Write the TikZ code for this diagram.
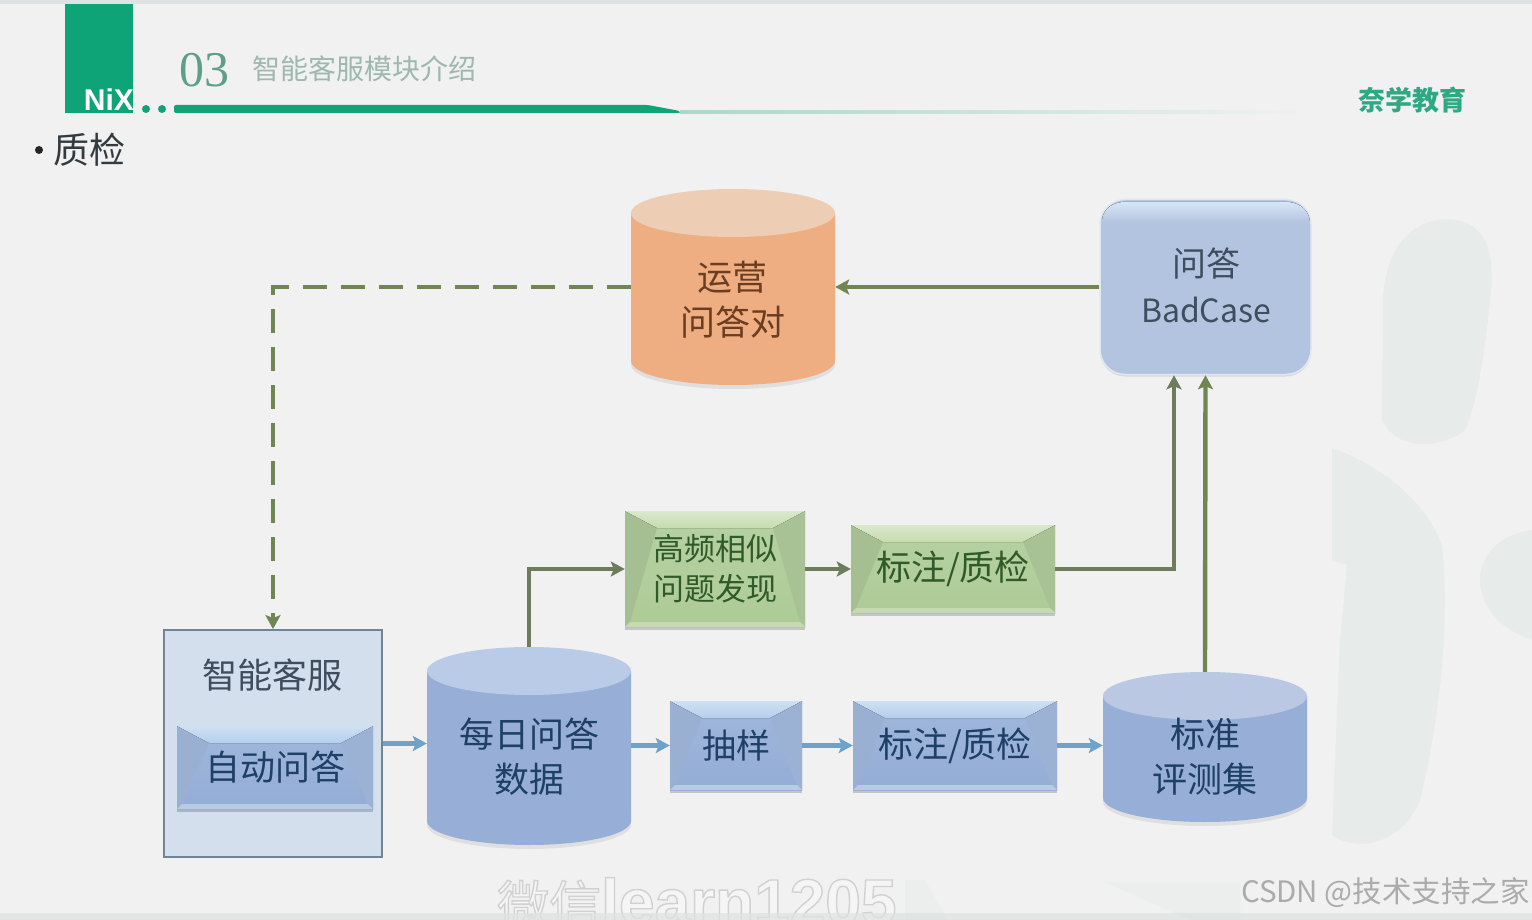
\documentclass[tikz,border=0pt]{standalone}
\usepackage{fontspec}
\setmainfont{Noto Sans CJK SC}
\newfontfamily\latinb{Liberation Sans}
\newfontfamily\serifnum{Liberation Serif}
\usetikzlibrary{arrows.meta,calc,shadows}
\definecolor{bgc}{HTML}{F1F1F1}
\definecolor{strip}{HTML}{DDE3E2}
\definecolor{nix}{HTML}{0FA478}
\definecolor{faint}{HTML}{E7ECEA}
\definecolor{inkblue}{HTML}{1E3F66}
\definecolor{inkgreen}{HTML}{2F5A2A}
\definecolor{inkbrown}{HTML}{6B3E22}
\definecolor{inkgrey}{HTML}{3F4E5E}
\definecolor{olive}{HTML}{6F8652}
\definecolor{olivedark}{HTML}{6E7C5E}
\definecolor{arrowblue}{HTML}{6FA2CB}
\definecolor{numc}{HTML}{5F9F8A}
\definecolor{titlec}{HTML}{9DB8AE}
\definecolor{brandc}{HTML}{2FA982}
\definecolor{headc}{HTML}{333B40}
\definecolor{shellfill}{HTML}{D3DFEC}
\definecolor{shelldraw}{HTML}{6F8497}
\definecolor{roundfill}{HTML}{B3C4E0}
\definecolor{roundtop}{HTML}{D8E6F4}
\definecolor{roundrim}{HTML}{E2E8F2}
\definecolor{btop}{HTML}{B4CFEC}\definecolor{bleft}{HTML}{9AB0D3}\definecolor{bright}{HTML}{9CB2D5}\definecolor{bbot}{HTML}{B9CAE4}\definecolor{bface}{HTML}{94ADD6}
\definecolor{gtop}{HTML}{C6DCB0}\definecolor{gleft}{HTML}{A6BF92}\definecolor{gright}{HTML}{A9C295}\definecolor{gbot}{HTML}{C6D9B2}\definecolor{gface}{HTML}{ADCB96}
\definecolor{cylblue}{HTML}{97AED6}\definecolor{cylbluetop}{HTML}{B9CBE6}
\definecolor{cylorange}{HTML}{EFAE81}\definecolor{cylorangetop}{HTML}{EDCDB3}
\definecolor{cylstdtop}{HTML}{BAC8E4}
\definecolor{csdnc}{HTML}{ABABAB}
\tikzset{
  px/.style={font=\fontsize{#1}{45}\selectfont},
  bevel/.style n args={5}{rectangle,inner sep=0pt,align=center,
    top color=#5!88!white,bottom color=#5,
    drop shadow={shadow xshift=0pt,shadow yshift=-3pt,fill=black,opacity=.18},
    path picture={
      \coordinate (NW) at (path picture bounding box.north west);
      \coordinate (NE) at (path picture bounding box.north east);
      \coordinate (SW) at (path picture bounding box.south west);
      \coordinate (SE) at (path picture bounding box.south east);
      \fill[#2] (NW) -- ([xshift=32pt,yshift=-17pt]NW) -- ([xshift=5pt,yshift=5pt]SW) -- (SW) -- cycle;
      \fill[#3] (NE) -- ([xshift=-32pt,yshift=-17pt]NE) -- ([xshift=-5pt,yshift=5pt]SE) -- (SE) -- cycle;
      \fill[top color=#1!65!white,bottom color=#1] (NW) -- (NE) -- ([xshift=-32pt,yshift=-17pt]NE) -- ([xshift=32pt,yshift=-17pt]NW) -- cycle;
      \fill[#4] (SW) -- ([xshift=5pt,yshift=5pt]SW) -- ([xshift=-5pt,yshift=5pt]SE) -- (SE) -- cycle;
    }},
  bluebevel/.style={bevel={btop}{bleft}{bright}{bbot}{bface},text=inkblue},
  greenbevel/.style={bevel={gtop}{gleft}{gright}{gbot}{gface},text=inkgreen},
  shellbox/.style={rectangle,draw=shelldraw,line width=1.8pt,fill=shellfill,inner sep=0pt},
  roundbox/.style={rectangle,rounded corners=25pt,inner sep=0pt,align=center,fill=roundfill,draw=roundrim,line width=1.5pt,
    drop shadow={shadow xshift=0pt,shadow yshift=-2pt,fill=black,opacity=.10}},
  cyltext/.style={inner sep=0pt,align=center},
  flow/.style={line width=4.4pt,draw=#1,-{Stealth[length=14pt,width=15pt,inset=3pt,fill=#1]}},
  dashflow/.style={line width=4.4pt,draw=olive,dash pattern=on 24pt off 14pt,-{Stealth[length=14pt,width=15pt,inset=3pt,fill=olive]}},
  ghost/.style={fill=faint,draw=none},
  ghostpale/.style={fill=faint!60!bgc,draw=none},
}
% \dbcyl{name}{x1}{x2}{y1}{y2}{body}{top}
\newcommand{\dbcyl}[7]{%
  \pgfmathsetmacro{\cx}{(#2+#3)/2}\pgfmathsetmacro{\rx}{(#3-#2)/2}%
  \pgfmathsetmacro{\cy}{(#4+#5)/2}\pgfmathsetmacro{\hh}{#5-#4}\pgfmathsetmacro{\ww}{#3-#2}%
  \pgfmathsetmacro{\ya}{#4+24}\pgfmathsetmacro{\yb}{#5-24}\pgfmathsetmacro{\ybs}{#5-20}%
  \fill[black,opacity=.07] (#2,\ya) -- (#2,\ybs) arc[start angle=180,end angle=360,x radius=\rx pt,y radius=24pt] -- (#3,\ya) -- cycle;
  \fill[#6] (#2,\ya) -- (#2,\yb) arc[start angle=180,end angle=360,x radius=\rx pt,y radius=24pt] -- (#3,\ya) -- cycle;
  \fill[#7] (\cx,\ya) ellipse[x radius=\rx pt,y radius=24pt];
  \node[inner sep=0pt,minimum width=\ww pt,minimum height=\hh pt] (#1) at (\cx,\cy) {};
}
\begin{document}
\begin{tikzpicture}[x=1pt,y=-1pt]
\useasboundingbox (0,0) rectangle (1532,920);
\fill[bgc] (0,0) rectangle (1532,920);
% faint backdrop shapes
\fill[ghost] (1383,300) .. controls (1385,240) and (1420,215) .. (1455,220) .. controls (1490,225) and (1495,260) .. (1490,300) .. controls (1485,350) and (1478,400) .. (1465,430) .. controls (1440,450) and (1395,450) .. (1382,420) -- cycle;
\fill[ghost] (1332,448) .. controls (1380,465) and (1425,500) .. (1442,545) .. controls (1450,620) and (1440,720) .. (1420,800) .. controls (1405,840) and (1360,855) .. (1332,835) -- (1340,640) -- (1347,565) -- (1332,560) -- cycle;
\fill[ghost] (1532,530) .. controls (1495,535) and (1478,560) .. (1480,585) .. controls (1485,615) and (1505,630) .. (1532,640) -- cycle;
\fill[ghostpale] (905,880) -- (925,880) -- (947,920) -- (905,920) -- cycle;
\fill[ghostpale] (1105,882) -- (1240,882) -- (1240,920) -- (1190,920) -- cycle;
% header
\fill[strip] (0,0) rectangle (1532,4);
\fill[nix] (65,4) rectangle (133,113);
\node[font=\latinb\bfseries\fontsize{30}{30}\selectfont,text=white,inner sep=0pt] (logo) at (109,100) {NiX};
\fill[nix] (146,109) circle (4pt) (162,109) circle (4pt);
\fill[nix,rounded corners=2pt] (174,105) -- (648,105) -- (680,111) -- (680,113) -- (174,113) -- cycle;
\shade[left color=nix!32!bgc,right color=bgc] (680,111) rectangle (1312,113.5);
\node[font=\serifnum\fontsize{50}{50}\selectfont,text=numc,inner sep=0pt] (num) at (204.5,70) {03};
\node[px=28,text=titlec,inner sep=0pt] (title) at (364.5,69) {智能客服模块介绍};
\node[font=\bfseries\fontsize{27}{27}\selectfont,text=brandc,inner sep=0pt] (brand) at (1412.5,100) {奈学教育};
\node[px=36,text=headc,inner sep=0pt,anchor=west] (head) at (53,150) {质检};
\fill[black!85] (39,150) circle (4pt);
% shapes
\node[shellbox,minimum width=218pt,minimum height=227pt] (kefu) at (273,743.5) {};
\node[px=35,text=inkgrey,inner sep=0pt] (kefut) at (272.5,675) {智能客服};
\node[bluebevel,px=35,minimum width=196pt,minimum height=83pt] (auto) at (275,767.5) {自动问答};
\dbcyl{daily}{427}{631}{647}{845}{cylblue}{cylbluetop}
\node[cyltext,px=35,text=inkblue] (dailyt) at (529,757) {每日问答\\数据};
\dbcyl{yun}{631}{835}{189}{385}{cylorange}{cylorangetop}
\node[cyltext,px=35,text=inkbrown] (yunt) at (732.5,300) {运营\\问答对};
\dbcyl{std}{1103}{1307}{672}{822}{cylblue}{cylstdtop}
\node[cyltext,px=35,text=inkblue] (stdt) at (1205,756.5) {标准\\评测集};
\node[roundbox,minimum width=211pt,minimum height=175pt] (bad) at (1205.5,287) {};
\fill[top color=roundtop,bottom color=roundfill] (1122,202) -- (1289,202) .. controls (1303,204) and (1309,212) .. (1310,222) -- (1102,222) .. controls (1102,212) and (1108,204) .. (1122,202) -- cycle;
\node[px=34,text=inkgrey,inner sep=0pt] (badq) at (1206,264) {问答};
\node[px=32,text=inkgrey,inner sep=0pt] (badc) at (1206,310) {BadCase};
\node[greenbevel,font=\fontsize{31}{40}\selectfont,minimum width=180pt,minimum height=116pt] (gao) at (715,569) {高频相似\\问题发现};
\node[greenbevel,px=35,minimum width=204pt,minimum height=88pt] (biao) at (953,569) {标注/质检};
\node[bluebevel,px=34,minimum width=132pt,minimum height=89pt] (chou) at (736,745.5) {抽样};
\node[bluebevel,px=35,minimum width=204pt,minimum height=89pt] (biao2) at (955,745.5) {标注/质检};
% connectors
\coordinate (corner) at (kefu.north |- bad.west);
\draw[dashflow] (yun.west |- bad.west) -- (corner) -- (kefu.north);
\draw[flow=olive] (bad.west) -- (yun.east |- bad.west);
\draw[flow=olivedark] (daily.north) |- (gao.west);
\draw[flow=olivedark] (gao.east) -- (biao.west);
\coordinate (badleft) at ([xshift=-31.5pt]bad.south);
\draw[flow=olivedark] (biao.east) -| (badleft);
\draw[flow=olive] (std.north) -- (bad.south);
\draw[flow=arrowblue] (kefu.east) -- (daily.west |- kefu.east);
\draw[flow=arrowblue] (daily.east |- chou.west) -- (chou.west);
\draw[flow=arrowblue] (chou.east) -- (biao2.west);
\draw[flow=arrowblue] (biao2.east) -- (std.west |- biao2.east);
% watermarks
\node[inner sep=0pt,anchor=base west] (mark) at (497,924) {\special{pdf:code q 2 Tr 1.4 w 0.82 0.82 0.82 RG 0.96 0.96 0.96 rg}\fontsize{52}{52}\selectfont 微信{\latinb\bfseries\fontsize{64}{64}\selectfont learn1205}\special{pdf:code Q}};
\fill[strip,opacity=.75] (0,913) rectangle (1532,920);
\node[font=\fontsize{29.5}{36}\selectfont,text=csdnc,inner sep=0pt,anchor=east] (csdn) at (1530,893) {CSDN @技术支持之家};
\end{tikzpicture}
\end{document}
